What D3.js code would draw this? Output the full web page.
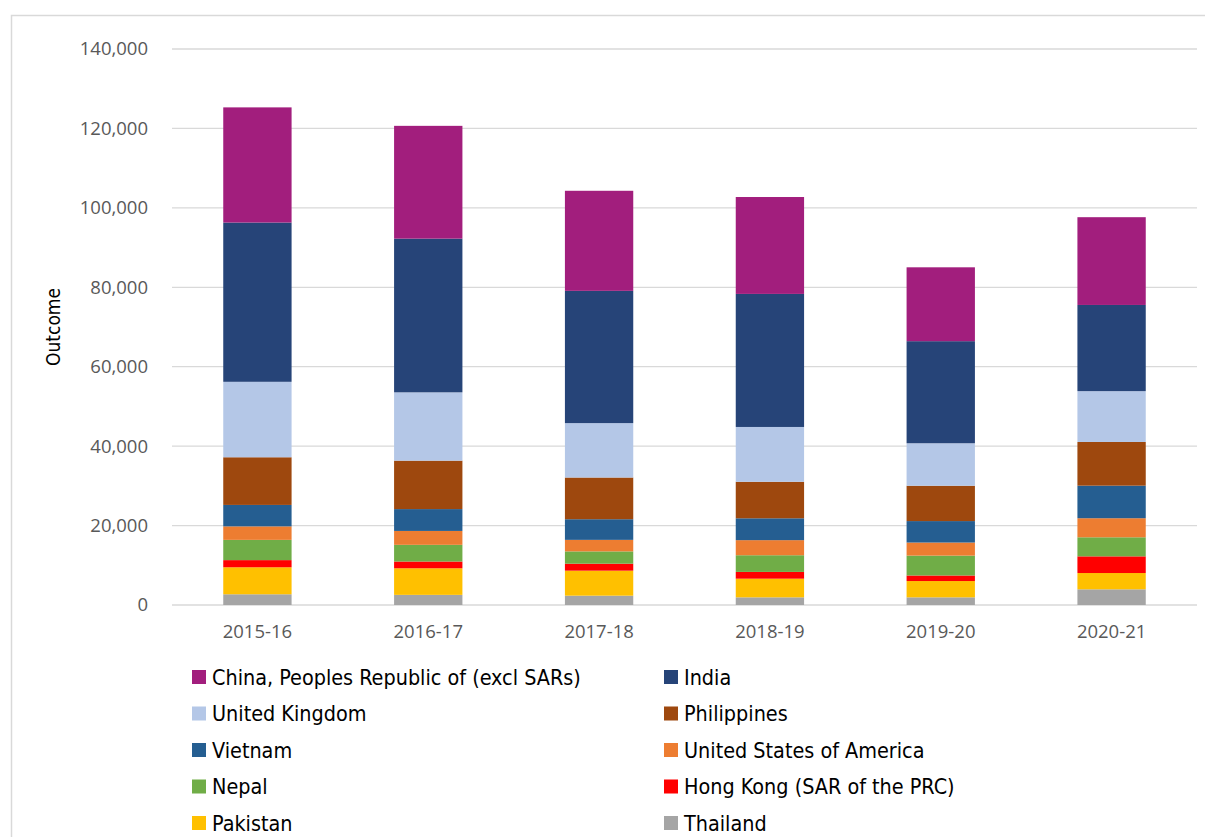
<!DOCTYPE html>
<html>
<head>
<meta charset="utf-8">
<script src="https://cdn.jsdelivr.net/npm/d3@7"></script>
<style>
  body { margin: 0; background: #fff; }
  .tick text { font-family: "Open Sans", sans-serif; }
</style>
</head>
<body>
<svg id="chart" width="1205" height="837"></svg>
<script>
// data
var years = ["2015-16", "2016-17", "2017-18", "2018-19", "2019-20", "2020-21"];
var countries = ["Thailand", "Pakistan", "Hong Kong (SAR of the PRC)", "Nepal", "United States of America",
  "Vietnam", "Philippines", "United Kingdom", "India", "China, Peoples Republic of (excl SARs)"];
var colors = ["#a5a5a5", "#ffc000", "#ff0000", "#70ad47", "#ed7d31",
  "#255e91", "#9e480e", "#b4c7e7", "#264478", "#a21e7d"];

var thailand    = [2700, 2550, 2350, 1930, 1930, 3950];
var pakistan    = [6800, 6700, 6300, 4700, 4100, 4100];
var hongKong    = [1800, 1700, 1750, 1700, 1400, 4200];
var nepal       = [5100, 4200, 3100, 4200, 5000, 4800];
var usa         = [3400, 3500, 2900, 3800, 3300, 4800];
var vietnam     = [5400, 5500, 5200, 5500, 5400, 8200];
var philippines = [12000, 12200, 10500, 9200, 8900, 11000];
var uk          = [19000, 17200, 13700, 13800, 10700, 12800];
var india       = [40100, 38700, 33300, 33500, 25700, 21700];
var china       = [29000, 28400, 25200, 24400, 18600, 22100];

var yTicks = [0, 20000, 40000, 60000, 80000, 100000, 120000, 140000];

// legend order as in the picture (two columns, row by row)
var legendOrder = [9, 8, 7, 6, 5, 4, 3, 2, 1, 0];

var seriesValues = [thailand, pakistan, hongKong, nepal, usa, vietnam, philippines, uk, india, china];

var rows = years.map(function(y, i) {
  var r = {year: y};
  countries.forEach(function(c, j) { r[c] = seriesValues[j][i]; });
  return r;
});

var margin = {top: 49, left: 172, right: 8, bottom: 232};
var W = 1205, H = 837;
var narrow = "'Liberation Sans Narrow', 'DejaVu Sans Condensed', sans-serif";

var svg = d3.select("#chart");

// outer chart border
svg.append("rect")
  .attr("x", 11.5).attr("y", 15.5)
  .attr("width", W + 20).attr("height", H + 20)
  .attr("fill", "none")
  .attr("stroke", "#d9d9d9")
  .attr("stroke-width", 1.5);

var x = d3.scaleBand()
  .domain(years)
  .range([margin.left, W - margin.right])
  .paddingInner(0.6)
  .paddingOuter(0.3);

var y = d3.scaleLinear()
  .domain([0, 140000])
  .range([H - margin.bottom, margin.top]);

var color = d3.scaleOrdinal().domain(countries).range(colors);

// gridlines
svg.append("g")
  .selectAll("line")
  .data(yTicks)
  .join("line")
    .attr("x1", margin.left).attr("x2", W - margin.right)
    .attr("y1", d => y(d)).attr("y2", d => y(d))
    .attr("stroke", "#d9d9d9")
    .attr("stroke-width", 1.3);

// y axis labels
var yAxis = svg.append("g")
  .attr("transform", `translate(${margin.left},0)`)
  .call(d3.axisLeft(y).tickValues(yTicks).tickFormat(d3.format(",")).tickSize(0).tickPadding(24));
yAxis.select(".domain").remove();
yAxis.selectAll("text").attr("font-size", 18.5).attr("fill", "#595959");

// x axis labels
var xAxis = svg.append("g")
  .attr("transform", `translate(0,${y(0)})`)
  .call(d3.axisBottom(x).tickSize(0).tickPadding(20));
xAxis.select(".domain").remove();
xAxis.selectAll("text").attr("font-size", 18.5).attr("fill", "#595959");

// axis title
svg.append("text")
  .attr("transform", `translate(60,${(y(0) + y(140000)) / 2}) rotate(-90)`)
  .attr("text-anchor", "middle")
  .attr("font-family", narrow)
  .attr("font-size", 19)
  .attr("fill", "#000")
  .text("Outcome");

// stacked bars
var series = d3.stack().keys(countries)(rows);

svg.append("g")
  .selectAll("g")
  .data(series)
  .join("g")
    .attr("fill", d => color(d.key))
  .selectAll("rect")
  .data(d => d)
  .join("rect")
    .attr("x", d => x(d.data.year))
    .attr("y", d => y(d[1]))
    .attr("height", d => y(d[0]) - y(d[1]))
    .attr("width", x.bandwidth());

// legend
var legend = svg.append("g")
  .selectAll("g")
  .data(legendOrder)
  .join("g")
    .attr("transform", (d, i) => `translate(${i % 2 === 0 ? 192 : 664},${677 + Math.floor(i / 2) * 36.5})`);

legend.append("rect")
  .attr("x", 0).attr("y", -7)
  .attr("width", 14).attr("height", 14)
  .attr("fill", d => colors[d]);

legend.append("text")
  .attr("x", 20).attr("y", 7.5)
  .attr("font-family", narrow)
  .attr("font-size", 21.4)
  .attr("fill", "#000")
  .text(d => countries[d]);
</script>
</body>
</html>
